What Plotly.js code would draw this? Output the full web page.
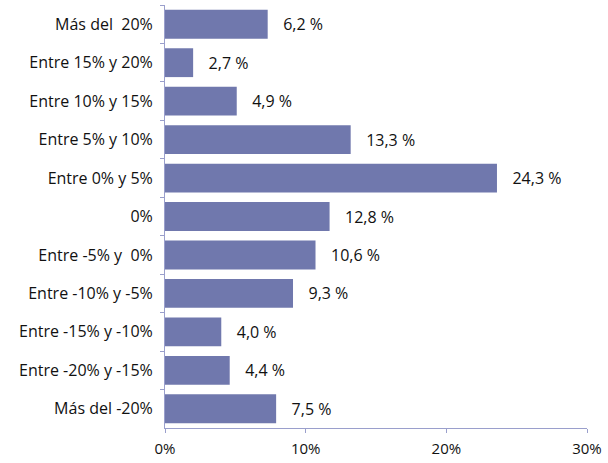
<!DOCTYPE html>
<html>
<head>
<meta charset="utf-8">
<script src="https://cdn.plot.ly/plotly-3.0.1.min.js"></script>
<style>
  html, body { margin: 0; padding: 0; background: #fff; }
  #chart { width: 608px; height: 463px; }
</style>
</head>
<body>
<div id="chart"></div>
<script>
// categories, top to bottom
const categorias = [
  'Más del  20%', 'Entre 15% y 20%', 'Entre 10% y 15%', 'Entre 5% y 10%',
  'Entre 0% y 5%', '0%', 'Entre -5% y  0%', 'Entre -10% y -5%',
  'Entre -15% y -10%', 'Entre -20% y -15%', 'Más del -20%'
];
// bar lengths as drawn (percent)
const valores = [7.3, 2.0, 5.1, 13.2, 23.6, 11.7, 10.7, 9.1, 4.0, 4.6, 7.9];
// printed data labels
const etiquetas = ['6,2 %', '2,7 %', '4,9 %', '13,3 %', '24,3 %', '12,8 %',
  '10,6 %', '9,3 %', '4,0 %', '4,4 %', '7,5 %'];
const xTicks = [0, 10, 20, 30];
const xTickText = ['0%', '10%', '20%', '30%'];

var trace = {
  type: 'bar',
  orientation: 'h',
  x: valores,
  y: categorias,
  text: etiquetas.map(t => '\u00a0\u00a0\u00a0' + t),
  textposition: 'outside',
  cliponaxis: false,
  textfont: { family: 'Open Sans, sans-serif', size: 16, color: '#111' },
  marker: { color: '#7078ad', line: { width: 0 } },
  hoverinfo: 'none'
};

var layout = {
  width: 608,
  height: 463,
  margin: { l: 165, r: 21, t: 5, b: 35 },
  paper_bgcolor: '#fff',
  plot_bgcolor: '#fff',
  showlegend: false,
  bargap: 0.25,
  font: { family: 'Open Sans, sans-serif', size: 16, color: '#111' },
  xaxis: {
    range: [0, 30],
    tickvals: xTicks,
    ticktext: xTickText,
    showgrid: false,
    zeroline: false,
    showline: true,
    linecolor: '#9a9fcc',
    linewidth: 1,
    ticks: 'outside',
    ticklen: 4,
    tickcolor: '#9a9fcc',
    tickfont: { size: 15 },
    ticklabelstandoff: 3,
    fixedrange: true
  },
  yaxis: {
    autorange: 'reversed',
    showgrid: false,
    showline: true,
    linecolor: '#9a9fcc',
    linewidth: 1,
    ticks: 'outside',
    tickson: 'boundaries',
    ticklen: 4,
    tickcolor: '#9a9fcc',
    tickfont: { size: 16 },
    ticklabelstandoff: 8,
    fixedrange: true
  }
};

Plotly.newPlot('chart', [trace], layout, { displayModeBar: false, staticPlot: true });
</script>
</body>
</html>
